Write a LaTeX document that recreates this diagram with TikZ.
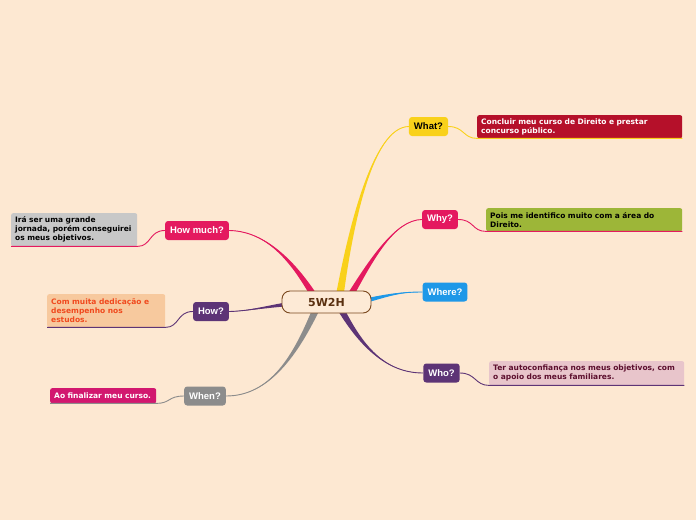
\documentclass[tikz,border=0pt]{standalone}
\usepackage{fontspec}
\newfontfamily\nodefont{Liberation Sans}
\newfontfamily\leaffont{DejaVu Sans}
\usetikzlibrary{calc}
\pgfdeclarelayer{bgl}
\pgfdeclarelayer{lines}
\pgfsetlayers{bgl,lines,main}
\definecolor{bgc}{RGB}{253,232,210}
\definecolor{yellowc}{RGB}{249,209,27}
\definecolor{pinkc}{RGB}{228,25,95}
\definecolor{bluec}{RGB}{30,152,232}
\definecolor{purplec}{RGB}{93,52,118}
\definecolor{grayc}{RGB}{140,140,140}
\definecolor{darkredc}{RGB}{181,16,42}
\definecolor{olivec}{RGB}{157,182,56}
\definecolor{lpinkc}{RGB}{232,197,203}
\definecolor{lgrayc}{RGB}{200,200,200}
\definecolor{peachc}{RGB}{247,201,158}
\definecolor{magentac}{RGB}{210,23,111}
\definecolor{orangetext}{RGB}{240,74,30}
\definecolor{maroontext}{RGB}{92,15,46}
\definecolor{brownc}{RGB}{122,72,30}
\definecolor{browntext}{RGB}{90,48,16}
\definecolor{centerfill}{RGB}{253,234,214}
\tikzset{
  topic/.style={rounded corners=3pt, minimum height=19pt, inner xsep=5pt, inner ysep=0pt,
    font=\nodefont\bfseries\fontsize{9.5}{11}\selectfont, text=white},
  central/.style={draw=brownc, line width=0.9pt, fill=centerfill, rounded corners=8pt,
    minimum width=89pt, minimum height=22pt, font=\leaffont\bfseries\fontsize{11}{13}\selectfont, text=browntext},
  leaf/.style={rounded corners=2pt, inner xsep=4pt, inner ysep=2pt, align=left, anchor=north west,
    font=\leaffont\bfseries\fontsize{7.5}{9}\selectfont},
  leafline/.style={line width=0.9pt},
}
% color, start offset from c, control1, control2, end, half-width vector
\newcommand\mybranch[6]{%
  \fill[#1] ($(c)+(#2)+(#6)$) .. controls ($(#3)+0.5*(#6)$) and (#4) .. (#5)
     .. controls (#4) and ($(#3)-0.5*(#6)$) .. ($(c)+(#2)-(#6)$) -- cycle;
  \draw[#1, line width=0.9pt] ($(c)+(#2)$) .. controls (#3) and (#4) .. (#5);}
\begin{document}
\begin{tikzpicture}[x=1pt,y=-1pt]
\begin{pgfonlayer}{bgl}
\fill[bgc] (0,0) rectangle (696,520);
\end{pgfonlayer}
\useasboundingbox (0,0) rectangle (696,520);

\node[central] (c) at (326.5,302) {5W2H};

\node[topic, fill=yellowc, text=black] (what) at (428.5,126.5) {What?};
\node[topic, fill=pinkc] (why) at (440,219.5) {Why?};
\node[topic, fill=bluec] (where) at (445,292) {Where?};
\node[topic, fill=purplec] (who) at (441.5,373) {Who?};
\node[topic, fill=pinkc] (hm) at (197,230.5) {How much?};
\node[topic, fill=purplec] (how) at (211,311.5) {How?};
\node[topic, fill=grayc] (when) at (205,396) {When?};

\node[leaf, fill=darkredc, text=white, text width=197pt, minimum height=23pt] (whatL) at (477,115)
  {Concluir meu curso de Direito e prestar\\concurso público.};
\node[leaf, fill=olivec, text=black, text width=188pt, minimum height=23pt] (whyL) at (486,208)
  {Pois me identifico muito com a área do\\Direito.};
\node[leaf, fill=lpinkc, text=maroontext, text width=187pt, minimum height=24pt] (whoL) at (489,361)
  {Ter autoconfiança nos meus objetivos, com\\o apoio dos meus familiares.};
\node[leaf, fill=lgrayc, text=black, text width=118pt, minimum height=33pt] (hmL) at (11,213)
  {Irá ser uma grande\\jornada, porém conseguirei\\os meus objetivos.};
\node[leaf, fill=peachc, text=orangetext, text width=110pt, minimum height=33pt] (howL) at (47,294)
  {Com muita dedicação e\\desempenho nos\\estudos.};
\node[leaf, fill=magentac, text=white, text width=98pt, minimum height=15pt] (whenL) at (50,388)
  {Ao finalizar meu curso.};

\begin{pgfonlayer}{lines}
\mybranch{yellowc}{12.5,-2}{350,230}{372,127}{what.west}{4,0}
\mybranch{pinkc}{20,0}{372,258}{395,220}{why.west}{4,0}
\mybranch{bluec}{34,0}{392,294}{402,292}{where.west}{0,2.5}
\mybranch{purplec}{12,3}{360,345}{385,373}{who.west}{4,0}
\mybranch{pinkc}{-10,-2}{290,255}{262,231}{hm.east}{4,0}
\mybranch{purplec}{-28,1}{268,306}{250,311}{how.east}{0,2.5}
\mybranch{grayc}{-9,4}{296,355}{270,396}{when.east}{4,0}
\end{pgfonlayer}

\draw[yellowc, leafline] (what.east) .. controls +(16,0) and +(-14,0) .. (whatL.south west) -- (whatL.south east);
\draw[pinkc, leafline] (why.east) .. controls +(16,0) and +(-14,0) .. (whyL.south west) -- (whyL.south east);
\draw[purplec, leafline] (who.east) .. controls +(16,0) and +(-14,0) .. (whoL.south west) -- (whoL.south east);
\draw[pinkc, leafline] (hm.west) .. controls +(-16,0) and +(14,0) .. (hmL.south east) -- (hmL.south west);
\draw[purplec, leafline] (how.west) .. controls +(-16,0) and +(14,0) .. (howL.south east) -- (howL.south west);
\draw[grayc, leafline] (when.west) .. controls +(-16,0) and +(14,0) .. (whenL.south east) -- (whenL.south west);
\end{tikzpicture}
\end{document}
